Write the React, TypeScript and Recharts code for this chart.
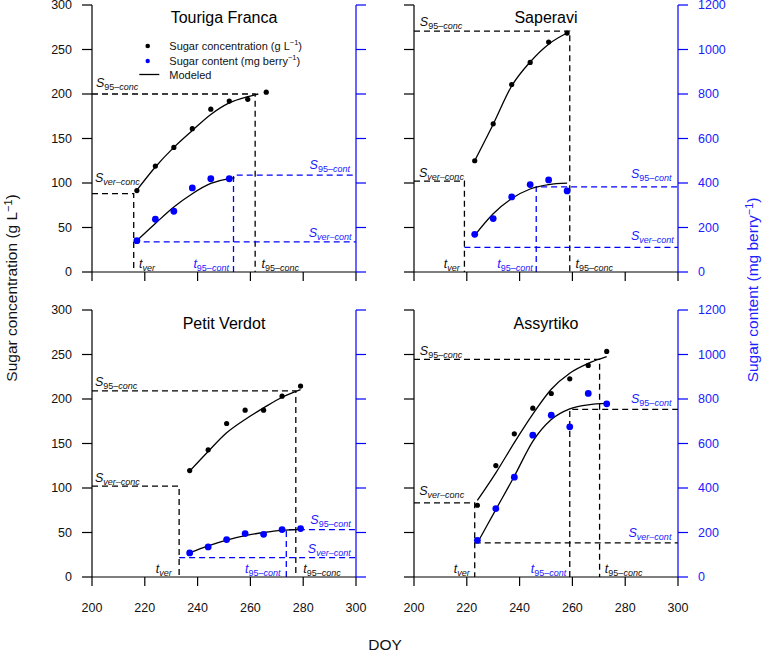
import React from 'react';
import { ComposedChart, Line, Scatter, XAxis, YAxis } from 'recharts';

// Touriga Franca
const tfDays = [217, 224, 231, 238, 245, 252, 259, 266];
const tfConc = [91.5, 119, 140, 161, 183, 192, 194, 202];
const tfContDays = [217, 224, 231, 238, 245, 252];
const tfCont = [141, 237, 273, 378, 419, 419];
const tfModelConcDays = [217, 224, 231, 238, 245, 252, 259, 263];
const tfModelConc = [92, 118, 140, 159, 177, 190, 197, 200];
const tfModelContDays = [217, 224, 231, 238, 245, 252, 254];
const tfModelCont = [141, 218, 292, 352, 398, 420, 423];
const tfMarks = { sVerConc: 88, s95Conc: 200, tVer: 215.8, t95Conc: 261.8, sVerCont: 135, s95Cont: 435, t95Cont: 253.6 };

// Saperavi
const saDays = [223, 230, 237, 244, 251, 258];
const saConc = [125, 166.5, 210.7, 235.5, 258.4, 268.5];
const saCont = [169.5, 240, 337.5, 393, 414, 364.5];
const saModelConc = [125, 166, 209, 236, 256, 268.5];
const saModelCont = [165, 262, 330, 373, 393, 399];
const saMarks = { sVerConc: 102, s95Conc: 270.7, tVer: 219.1, t95Conc: 259, sVerCont: 111, s95Cont: 382.5, t95Cont: 246.3 };

// Petit Verdot
const pvDays = [237, 244, 251, 258, 265, 272, 279];
const pvConc = [119.6, 142.9, 172.5, 187.5, 187.5, 203.2, 214.5];
const pvCont = [108, 135, 168, 195, 192, 213, 217.5];
const pvModelConc = [119, 141, 162, 177, 190, 202, 210.5];
const pvModelCont = [108, 140, 166, 186, 200, 210, 214];
const pvMarks = { sVerConc: 102, s95Conc: 209.2, tVer: 233, t95Conc: 277.2, sVerCont: 87, s95Cont: 213, t95Cont: 273.6 };

// Assyrtiko
const asDays = [224, 231, 238, 245, 252, 259, 266, 273];
const asConc = [80.6, 125.2, 160.9, 189.7, 206.2, 222.7, 237.7, 253.5];
const asCont = [165, 307.5, 448.5, 637.5, 727.5, 675, 825, 778.5];
const asModelConc = [86, 117, 151, 183, 211, 229, 240, 247.5];
const asModelCont = [153, 303, 453, 610, 708, 756, 774, 780];
const asMarks = { sVerConc: 83.2, s95Conc: 244.5, tVer: 223, t95Conc: 270.3, sVerCont: 153, s95Cont: 753, t95Cont: 259 };

const doyTicks = [200, 220, 240, 260, 280, 300];
const concTicks = [0, 50, 100, 150, 200, 250, 300];
const contTicks = [0, 200, 400, 600, 800, 1000, 1200];

const BLUE = '#0000ff';
const BLUE_TEXT = '#2020ff';
const FONT = '"Liberation Sans", Arial, sans-serif';

const TICK_LEN = 10;
const TICK_GAP = 10;
const X_TICK_LEN = 9;
const X_TICK_GAP = 17;
const TICK_W = 1.2;

const pts = (xs: number[], ys: number[]) => xs.map((x, i) => ({ x, y: ys[i] }));

// annotation labels: [italic letter, upright subscript part, italic subscript part]
const NOTE_TEXT: Record<string, string[]> = {
  s95Conc: ['S', '95\u2013', 'conc'],
  sVerConc: ['S', '', 'ver\u2013conc'],
  tVer: ['t', '', 'ver'],
  t95Cont: ['t', '95\u2013', 'cont'],
  t95Conc: ['t', '95\u2013', 'conc'],
  s95Cont: ['S', '95\u2013', 'cont'],
  sVerCont: ['S', '', 'ver\u2013cont'],
};
const BLUE_NOTES = ['t95Cont', 's95Cont', 'sVerCont'];

type Note = { kind: string; x: number; y: number; anchor: 'start' | 'middle' | 'end' };

const tfNotes: Note[] = [
  { kind: 'title', x: 250, y: 280, anchor: 'middle' },
  { kind: 's95Conc', x: 201.5, y: 208, anchor: 'start' },
  { kind: 'sVerConc', x: 201.1, y: 101.5, anchor: 'start' },
  { kind: 'tVer', x: 217.8, y: 4.5, anchor: 'start' },
  { kind: 't95Cont', x: 238.4, y: 4.5, anchor: 'start' },
  { kind: 't95Conc', x: 264.2, y: 4.5, anchor: 'start' },
  { kind: 's95Cont', x: 297.7, y: 115.7, anchor: 'end' },
  { kind: 'sVerCont', x: 298.3, y: 39.7, anchor: 'end' },
];
const saNotes: Note[] = [
  { kind: 'title', x: 250, y: 280, anchor: 'middle' },
  { kind: 's95Conc', x: 202.2, y: 276.4, anchor: 'start' },
  { kind: 'sVerConc', x: 201.9, y: 106.4, anchor: 'start' },
  { kind: 'tVer', x: 217.3, y: 4.5, anchor: 'end' },
  { kind: 't95Cont', x: 245, y: 4.5, anchor: 'end' },
  { kind: 't95Conc', x: 261.2, y: 4.5, anchor: 'start' },
  { kind: 's95Cont', x: 297.5, y: 105.3, anchor: 'end' },
  { kind: 'sVerCont', x: 298.4, y: 36, anchor: 'end' },
];
const pvNotes: Note[] = [
  { kind: 'title', x: 250, y: 279, anchor: 'middle' },
  { kind: 's95Conc', x: 201.1, y: 214.4, anchor: 'start' },
  { kind: 'sVerConc', x: 201.1, y: 106.4, anchor: 'start' },
  { kind: 'tVer', x: 230.2, y: 4.5, anchor: 'end' },
  { kind: 't95Cont', x: 271.4, y: 4.5, anchor: 'end' },
  { kind: 't95Conc', x: 280, y: 4.5, anchor: 'start' },
  { kind: 's95Cont', x: 298, y: 59.6, anchor: 'end' },
  { kind: 'sVerCont', x: 298, y: 27, anchor: 'end' },
];
const asNotes: Note[] = [
  { kind: 'title', x: 250, y: 279, anchor: 'middle' },
  { kind: 's95Conc', x: 202.2, y: 250, anchor: 'start' },
  { kind: 'sVerConc', x: 202, y: 91.8, anchor: 'start' },
  { kind: 'tVer', x: 221.1, y: 4.5, anchor: 'end' },
  { kind: 't95Cont', x: 257.7, y: 4.5, anchor: 'end' },
  { kind: 't95Conc', x: 272.3, y: 4.5, anchor: 'start' },
  { kind: 's95Cont', x: 297.5, y: 195.7, anchor: 'end' },
  { kind: 'sVerCont', x: 297.5, y: 45, anchor: 'end' },
];

type Marks = typeof tfMarks;

const panels = [
  {
    name: 'Touriga Franca', left: 0, top: 0, isLeft: true, isBottom: false,
    conc: pts(tfDays, tfConc), cont: pts(tfContDays, tfCont),
    modelConc: pts(tfModelConcDays, tfModelConc), modelCont: pts(tfModelContDays, tfModelCont),
    marks: tfMarks, contGuideColor: BLUE, notes: tfNotes,
  },
  {
    name: 'Saperavi', left: 400, top: 0, isLeft: false, isBottom: false,
    conc: pts(saDays, saConc), cont: pts(saDays, saCont),
    modelConc: pts(saDays, saModelConc), modelCont: pts(saDays, saModelCont),
    marks: saMarks, contGuideColor: BLUE, notes: saNotes,
  },
  {
    name: 'Petit Verdot', left: 0, top: 300, isLeft: true, isBottom: true,
    conc: pts(pvDays, pvConc), cont: pts(pvDays, pvCont),
    modelConc: pts(pvDays, pvModelConc), modelCont: pts(pvDays, pvModelCont),
    marks: pvMarks, contGuideColor: BLUE, notes: pvNotes,
  },
  {
    name: 'Assyrtiko', left: 400, top: 300, isLeft: false, isBottom: true,
    conc: pts(asDays, asConc), cont: pts(asDays, asCont),
    modelConc: pts(asDays, asModelConc), modelCont: pts(asDays, asModelCont),
    marks: asMarks, contGuideColor: '#000', notes: asNotes,
  },
];

const concGuides = (m: Marks) => [
  [{ x: 200, y: m.sVerConc }, { x: m.tVer, y: m.sVerConc }, { x: m.tVer, y: 0 }],
  [{ x: 200, y: m.s95Conc }, { x: m.t95Conc, y: m.s95Conc }, { x: m.t95Conc, y: 0 }],
];
const contGuides = (m: Marks) => [
  [{ x: m.tVer, y: m.sVerCont }, { x: 300, y: m.sVerCont }],
  [{ x: m.t95Cont, y: 0 }, { x: m.t95Cont, y: m.s95Cont }, { x: 300, y: m.s95Cont }],
];

const makeNoteShape = (title: string) => (p: any) => {
  const n = p.payload as Note;
  if (n.kind === 'title') {
    return (
      <text x={p.cx} y={p.cy} textAnchor="middle" fontSize={16} fill="#000" fontFamily={FONT}>
        {title}
      </text>
    );
  }
  const [main, num, sub] = NOTE_TEXT[n.kind];
  const color = BLUE_NOTES.includes(n.kind) ? BLUE_TEXT : '#111';
  return (
    <text x={p.cx} y={p.cy} textAnchor={n.anchor} fontSize={12.5} fill={color} fontFamily={FONT}>
      <tspan fontStyle="italic">{main}</tspan>
      <tspan fontSize={9} dy={3}>
        {num}
        <tspan fontStyle="italic">{sub}</tspan>
      </tspan>
    </text>
  );
};

const blackDot = (p: any) => <circle cx={p.cx} cy={p.cy} r={2.6} fill="#000" />;
const blueDot = (p: any) => <circle cx={p.cx} cy={p.cy} r={3.4} fill={BLUE} />;

// tick mark (a thin filled rect) + optional label, placed from the position Recharts hands to the tick
const makeTick = (side: 'left' | 'right' | 'bottom', showLabel: boolean, color: string, textColor: string) =>
  (p: any) => {
    const x = Number(p.x);
    const y = Number(p.y);
    if (side === 'bottom') {
      return (
        <g>
          <rect
            x={x - TICK_W / 2}
            y={y - X_TICK_GAP - X_TICK_LEN}
            width={TICK_W}
            height={X_TICK_LEN}
            fill={color}
            stroke="none"
          />
          {showLabel && (
            <text x={x} y={y} dy="0.71em" textAnchor="middle" fontSize={12.5} fill={textColor} fontFamily={FONT}>
              {p.payload.value}
            </text>
          )}
        </g>
      );
    }
    const tickX = side === 'left' ? x + TICK_GAP : x - TICK_GAP - TICK_LEN;
    return (
      <g>
        <rect x={tickX} y={y - TICK_W / 2} width={TICK_LEN} height={TICK_W} fill={color} stroke="none" />
        {showLabel && (
          <text
            x={x}
            y={y}
            dy="0.355em"
            textAnchor={side === 'left' ? 'end' : 'start'}
            fontSize={12.5}
            fill={textColor}
            fontFamily={FONT}
          >
            {p.payload.value}
          </text>
        )}
      </g>
    );
  };

function Panel({ cfg }: { cfg: (typeof panels)[number] }) {
  const width = cfg.isLeft ? 370 : 363;
  const height = cfg.isBottom ? 317 : 292;
  return (
    <div style={{ position: 'absolute', left: cfg.left, top: cfg.top }}>
      <ComposedChart
        width={width}
        height={height}
        margin={{ top: cfg.isBottom ? 10 : 5, right: 0, bottom: 0, left: 0 }}
      >
        <XAxis
          dataKey="x"
          type="number"
          domain={[200, 300]}
          ticks={doyTicks}
          interval={0}
          stroke="#000"
          axisLine={{ stroke: '#000', strokeWidth: 1.2 }}
          tickLine={false}
          tickSize={X_TICK_LEN}
          tickMargin={X_TICK_GAP}
          height={cfg.isBottom ? 40 : 20}
          tick={makeTick('bottom', cfg.isBottom, '#000', '#111')}
        />
        <XAxis
          xAxisId="top"
          orientation="top"
          type="number"
          domain={[200, 300]}
          stroke="#000"
          axisLine={{ stroke: '#000', strokeWidth: 1.2 }}
          tick={false}
          tickLine={false}
          height={0}
        />
        <YAxis
          yAxisId="left"
          dataKey="y"
          type="number"
          domain={[0, 300]}
          ticks={concTicks}
          interval={0}
          stroke="#000"
          axisLine={{ stroke: '#000', strokeWidth: 1.2 }}
          tickLine={false}
          tickSize={TICK_LEN}
          tickMargin={TICK_GAP}
          width={cfg.isLeft ? 92 : 14}
          tick={makeTick('left', cfg.isLeft, '#000', '#111')}
        />
        <YAxis
          yAxisId="right"
          orientation="right"
          dataKey="y"
          type="number"
          domain={[0, 1200]}
          ticks={contTicks}
          interval={0}
          stroke={BLUE}
          axisLine={{ stroke: BLUE, strokeWidth: 1.2 }}
          tickLine={false}
          tickSize={TICK_LEN}
          tickMargin={TICK_GAP}
          width={cfg.isLeft ? 14 : 85}
          tick={makeTick('right', !cfg.isLeft, BLUE, BLUE_TEXT)}
        />

        {concGuides(cfg.marks).map((g, i) => (
          <Line
            key={`cg${i}`}
            yAxisId="left"
            data={g}
            dataKey="y"
            type="linear"
            stroke="#000"
            strokeWidth={1.3}
            strokeDasharray="6 4"
            dot={false}
            activeDot={false}
            isAnimationActive={false}
          />
        ))}
        {contGuides(cfg.marks).map((g, i) => (
          <Line
            key={`ug${i}`}
            yAxisId="right"
            data={g}
            dataKey="y"
            type="linear"
            stroke={cfg.contGuideColor}
            strokeWidth={1.3}
            strokeDasharray="6 4"
            dot={false}
            activeDot={false}
            isAnimationActive={false}
          />
        ))}

        <Line
          yAxisId="left"
          data={cfg.modelConc}
          dataKey="y"
          type="monotone"
          stroke="#000"
          strokeWidth={1.3}
          dot={false}
          activeDot={false}
          isAnimationActive={false}
        />
        <Line
          yAxisId="right"
          data={cfg.modelCont}
          dataKey="y"
          type="monotone"
          stroke="#000"
          strokeWidth={1.3}
          dot={false}
          activeDot={false}
          isAnimationActive={false}
        />

        <Scatter yAxisId="right" data={cfg.cont} dataKey="y" shape={blueDot} isAnimationActive={false} />
        <Scatter yAxisId="left" data={cfg.conc} dataKey="y" shape={blackDot} isAnimationActive={false} />
        <Scatter
          yAxisId="left"
          data={cfg.notes}
          dataKey="y"
          shape={makeNoteShape(cfg.name)}
          isAnimationActive={false}
        />
      </ComposedChart>
    </div>
  );
}

const Sup = ({ children }: { children: React.ReactNode }) => (
  <span style={{ fontSize: '0.7em', position: 'relative', top: '-0.5em' }}>{children}</span>
);

function LegendBox() {
  return (
    <svg
      width={320}
      height={90}
      style={{ position: 'absolute', left: 0, top: 0, pointerEvents: 'none' }}
      fontFamily={FONT}
    >
      <circle cx={147.7} cy={46} r={2.3} fill="#000" />
      <circle cx={147.7} cy={61} r={2.2} fill={BLUE} />
      <line x1={139.3} x2={159.3} y1={74.5} y2={74.5} stroke="#000" strokeWidth={1.3} />
      <text x={169.3} y={50} fontSize={11} fill="#111">
        Sugar concentration (g L<tspan fontSize={7.5} dy={-5}>{'\u22121'}</tspan>
        <tspan dy={5}>)</tspan>
      </text>
      <text x={169.3} y={65} fontSize={11} fill="#111">
        Sugar content (mg berry<tspan fontSize={7.5} dy={-5}>{'\u22121'}</tspan>
        <tspan dy={5}>)</tspan>
      </text>
      <text x={169.3} y={79} fontSize={11} fill="#111">
        Modeled
      </text>
    </svg>
  );
}

export default function App() {
  return (
    <div
      style={{
        position: 'absolute',
        left: 0,
        top: 0,
        width: 763,
        height: 652,
        background: '#fff',
        fontFamily: FONT,
        overflow: 'hidden',
      }}
    >
      <div
        style={{
          position: 'absolute',
          left: 12,
          top: 288,
          transform: 'translate(-50%, -50%) rotate(-90deg)',
          whiteSpace: 'nowrap',
          fontSize: 15.5,
          color: '#111',
          lineHeight: 1,
        }}
      >
        Sugar concentration (g L<Sup>{'\u22121'}</Sup>)
      </div>
      <div
        style={{
          position: 'absolute',
          left: 753,
          top: 290,
          transform: 'translate(-50%, -50%) rotate(-90deg)',
          whiteSpace: 'nowrap',
          fontSize: 15.5,
          color: BLUE_TEXT,
          lineHeight: 1,
        }}
      >
        Sugar content (mg berry<Sup>{'\u22121'}</Sup>)
      </div>
      <div
        style={{
          position: 'absolute',
          left: 385,
          top: 645,
          transform: 'translate(-50%, -50%)',
          whiteSpace: 'nowrap',
          fontSize: 15.5,
          color: '#111',
          lineHeight: 1,
        }}
      >
        DOY
      </div>
      {panels.map((p) => (
        <Panel key={p.name} cfg={p} />
      ))}
      <LegendBox />
    </div>
  );
}
